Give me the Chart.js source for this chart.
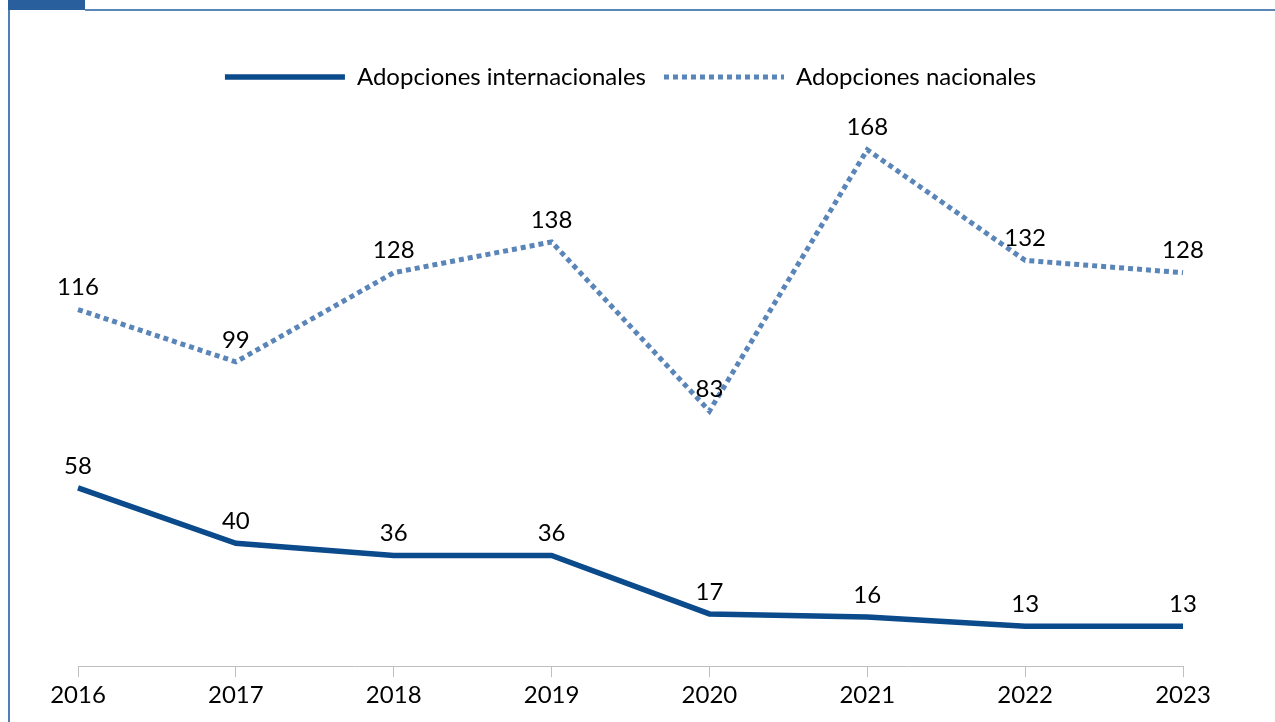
<!DOCTYPE html>
<html lang="es">
<head>
<meta charset="utf-8">
<title>Adopciones 2016-2023</title>
<script src="https://cdn.jsdelivr.net/npm/chart.js@4/dist/chart.umd.min.js"></script>
<style>
  html, body { margin: 0; padding: 0; background: #fff; }
  #wrap { position: relative; width: 1275px; height: 722px; overflow: hidden; }
  #tab { position: absolute; left: 8px; top: 0; width: 77px; height: 10px; background: #2a5f9e; }
  #topline { position: absolute; left: 85px; right: 0; top: 9px; height: 2px; background: #5b86b8; }
  #leftline { position: absolute; left: 8px; top: 10px; bottom: 0; width: 2px; background: #4f7fb8; }
  #chart { position: absolute; left: 0; top: 0; }
</style>
</head>
<body>
<div id="wrap">
  <div id="tab"></div>
  <div id="topline"></div>
  <div id="leftline"></div>
  <canvas id="chart" width="1275" height="722"></canvas>
</div>
<script>
const years = ['2016', '2017', '2018', '2019', '2020', '2021', '2022', '2023'];
const internacionales = [58, 40, 36, 36, 17, 16, 13, 13];
const nacionales = [116, 99, 128, 138, 83, 168, 132, 128];

const FONT = 'Lato, "Open Sans", sans-serif';

// value labels above each point
const pointLabels = {
    id: 'pointLabels',
    afterDatasetsDraw(chart) {
        const ctx = chart.ctx;
        ctx.save();
        ctx.font = '24px ' + FONT;
        ctx.fillStyle = '#000';
        ctx.textAlign = 'center';
        ctx.textBaseline = 'middle';
        chart.data.datasets.forEach((ds, i) => {
            chart.getDatasetMeta(i).data.forEach((pt, j) => {
                ctx.fillText(ds.data[j], pt.x, pt.y - 22);
            });
        });
        ctx.restore();
    }
};

new Chart(document.getElementById('chart'), {
    type: 'line',
    data: {
        labels: years,
        datasets: [{
            label: 'Adopciones internacionales',
            data: internacionales,
            borderColor: '#0b4a8b',
            backgroundColor: '#0b4a8b',
            borderWidth: 5.5,
            pointRadius: 0,
            tension: 0
        }, {
            label: 'Adopciones nacionales',
            data: nacionales,
            borderColor: '#5a85b8',
            backgroundColor: '#5a85b8',
            borderWidth: 5,
            borderDash: [5, 4],
            pointRadius: 0,
            tension: 0
        }]
    },
    options: {
        responsive: false,
        animation: false,
        devicePixelRatio: 1,
        layout: { padding: { top: 47, left: 78, right: 92, bottom: 8 } },
        plugins: {
            legend: {
                position: 'top',
                labels: {
                    usePointStyle: true,
                    pointStyle: 'line',
                    pointStyleWidth: 120,
                    boxHeight: 5,
                    color: '#000',
                    font: { family: FONT, size: 24 },
                    padding: 18,
                    // keep the dash pattern of each line in its legend sample
                    generateLabels(chart) {
                        const items = Chart.defaults.plugins.legend.labels.generateLabels(chart);
                        items.forEach(item => {
                            const ds = chart.data.datasets[item.datasetIndex];
                            item.lineDash = ds.borderDash || [];
                            item.lineWidth = ds.borderWidth;
                        });
                        return items;
                    }
                }
            },
            tooltip: { enabled: false }
        },
        scales: {
            x: {
                offset: false,
                grid: { drawOnChartArea: false, drawTicks: true, tickLength: 11, color: '#bfbfbf' },
                border: { color: '#bfbfbf', width: 1 },
                ticks: { color: '#000', font: { family: FONT, size: 24 }, padding: 4, maxRotation: 0 }
            },
            y: {
                display: false,
                min: 0,
                max: 184.5
            }
        }
    },
    plugins: [pointLabels]
});
</script>
</body>
</html>
